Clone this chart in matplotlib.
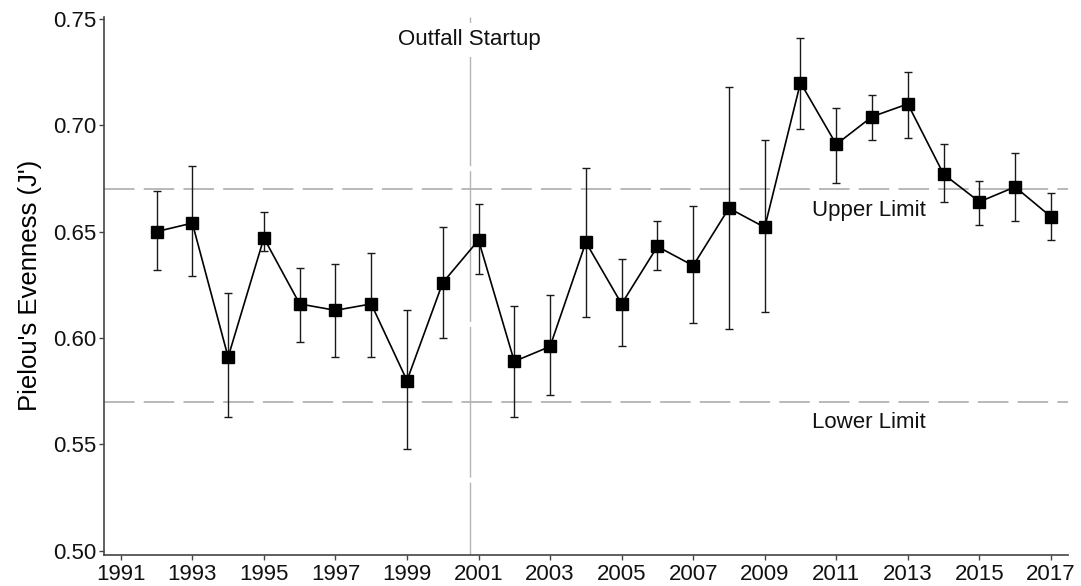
import matplotlib
matplotlib.use("Agg")
import matplotlib.pyplot as plt

plt.rcParams['font.family'] = ['Liberation Sans', 'DejaVu Sans']

# Pielou's evenness per survey year, mean with lower/upper bounds
years = [1992, 1993, 1994, 1995, 1996, 1997, 1998, 1999, 2000, 2001,
         2002, 2003, 2004, 2005, 2006, 2007, 2008, 2009, 2010, 2011,
         2012, 2013, 2014, 2015, 2016, 2017]
evenness = [0.650, 0.654, 0.591, 0.647, 0.616, 0.613, 0.616, 0.580, 0.626, 0.646,
            0.589, 0.596, 0.645, 0.616, 0.643, 0.634, 0.661, 0.652, 0.720, 0.691,
            0.704, 0.710, 0.677, 0.664, 0.671, 0.657]
lower = [0.632, 0.629, 0.563, 0.641, 0.598, 0.591, 0.591, 0.548, 0.600, 0.630,
         0.563, 0.573, 0.610, 0.596, 0.632, 0.607, 0.604, 0.612, 0.698, 0.673,
         0.693, 0.694, 0.664, 0.653, 0.655, 0.646]
upper = [0.669, 0.681, 0.621, 0.659, 0.633, 0.635, 0.640, 0.613, 0.652, 0.663,
         0.615, 0.620, 0.680, 0.637, 0.655, 0.662, 0.718, 0.693, 0.741, 0.708,
         0.714, 0.725, 0.691, 0.674, 0.687, 0.668]

upper_limit = 0.67
lower_limit = 0.57
startup = 2000.75

xticks = list(range(1991, 2018, 2))
yticks = [0.50, 0.55, 0.60, 0.65, 0.70, 0.75]

fig = plt.figure(figsize=(10.81, 5.86), dpi=100)
ax = fig.add_axes([0.0962, 0.0529, 0.8915, 0.9186])

err_lo = [m - l for m, l in zip(evenness, lower)]
err_hi = [u - m for m, u in zip(evenness, upper)]

ax.axhline(upper_limit, color='#a6a6a6', lw=1.1, dashes=(20, 6), zorder=1)
ax.axhline(lower_limit, color='#a6a6a6', lw=1.1, dashes=(20, 6), zorder=1)
ax.axvline(startup, color='#b4b4b4', lw=1.0,
           linestyle=(56, (108.5, 3.6)), zorder=1)

ax.errorbar(years, evenness, yerr=[err_lo, err_hi], fmt='none',
            ecolor='#1a1a1a', elinewidth=1.0, capsize=3.2, capthick=1.0, zorder=2)
ax.plot(years, evenness, color='black', lw=1.2, marker='s', ms=8.6,
        mfc='black', mec='black', zorder=3)

ax.text(startup, 0.7375, 'Outfall Startup', ha='center', va='baseline',
        fontsize=16, color='#111111',
        bbox=dict(facecolor='white', edgecolor='none', pad=5))
ax.text(2011.9, 0.6572, 'Upper Limit', ha='center', va='baseline',
        fontsize=16, color='#111111')
ax.text(2011.9, 0.5575, 'Lower Limit', ha='center', va='baseline',
        fontsize=16, color='#111111')

ax.set_xlim(1990.53, 2017.47)
ax.set_ylim(0.498, 0.751)
ax.set_xticks(xticks)
ax.set_yticks(yticks)
ax.set_yticklabels(['%.2f' % t for t in yticks])

ax.set_ylabel("Pielou's Evenness (J')", fontsize=18.5, labelpad=8)

for side in ['top', 'right']:
    ax.spines[side].set_visible(False)
for side in ['left', 'bottom']:
    ax.spines[side].set_color('#444444')
    ax.spines[side].set_linewidth(1.2)

ax.tick_params(axis='both', labelsize=16, length=3.5, width=1, color='#444444',
               labelcolor='#111111')
ax.tick_params(axis='x', pad=3)
ax.tick_params(axis='y', pad=2)

fig.savefig('out.png', dpi=100)
